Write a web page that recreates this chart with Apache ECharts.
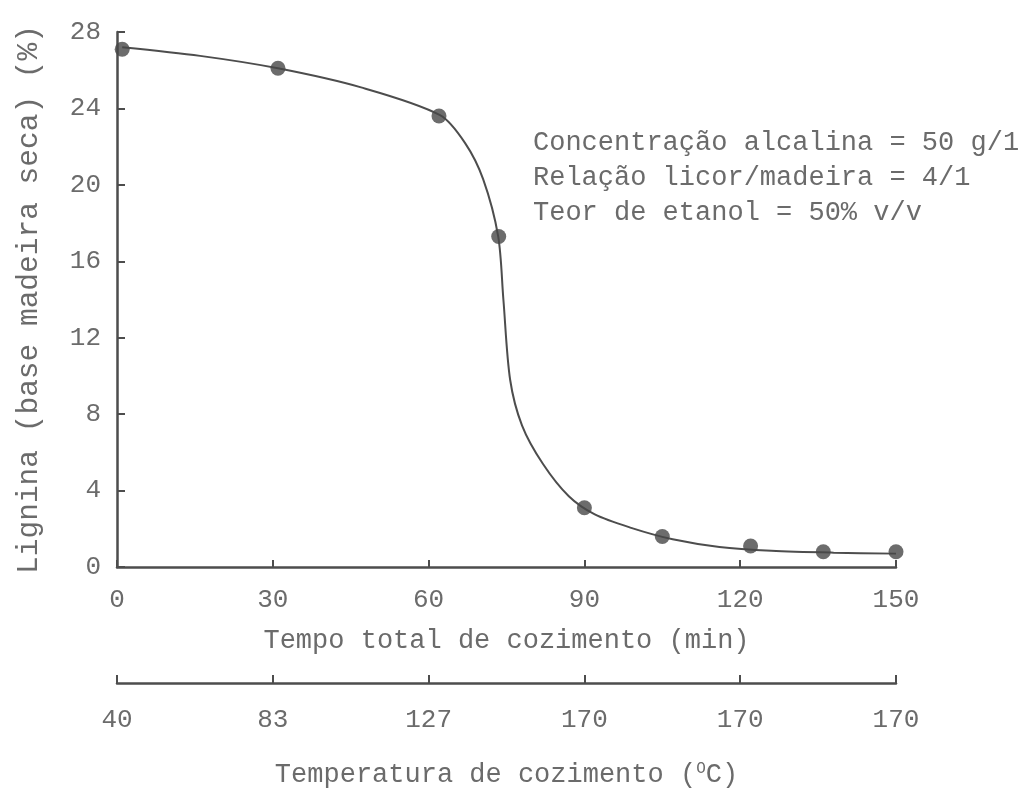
<!DOCTYPE html>
<html>
<head>
<meta charset="utf-8">
<script src="https://cdn.jsdelivr.net/npm/echarts@6/dist/echarts.min.js"></script>
<style>
  html, body { margin: 0; padding: 0; background: #ffffff; }
  #chart { width: 1030px; height: 799px; }
</style>
</head>
<body>
<div id="chart"></div>
<script>
// Measured lignin content (% dry wood basis) against total cooking time (min)
const timeMin = [1, 31, 62, 73.5, 90, 105, 122, 136, 150];
const lignin  = [27.1, 26.1, 23.6, 17.3, 3.1, 1.6, 1.1, 0.8, 0.8];

// Fitted curve drawn through the measurements
const curveTime   = [1, 16, 31, 47, 62.2, 67, 70.5, 73.4, 74.4, 75.7, 78, 82, 87, 92, 99, 107, 116, 126, 138, 150];
const curveLignin = [27.2, 26.75, 26.1, 25.1, 23.65, 22.2, 20.3, 17.3, 14.0, 9.8, 7.4, 5.4, 3.7, 2.75, 2.05, 1.45, 1.05, 0.85, 0.75, 0.7];

// Cooking temperature (°C) reached at each 30-min mark of the time axis
const tempTicks  = [0, 30, 60, 90, 120, 150];
const tempLabels = ['40', '83', '127', '170', '170', '170'];

const conditions = [
  'Concentração alcalina = 50 g/1',
  'Relação licor/madeira = 4/1',
  'Teor de etanol = 50% v/v'
];

const FONT = '"Liberation Mono", "DejaVu Sans Mono", monospace';
const INK = '#4d4d4d';
const TEXT = '#6b6b6b';

const chart = echarts.init(document.getElementById('chart'), null, { renderer: 'canvas' });

chart.setOption({
  backgroundColor: '#ffffff',
  animation: false,
  grid: [
    { left: 117, right: 134, top: 32, bottom: 232, containLabel: false },
    { left: 117, right: 134, top: 683, height: 0, containLabel: false }
  ],
  xAxis: [
    {
      gridIndex: 0,
      type: 'value',
      min: 0, max: 150, interval: 30,
      name: 'Tempo total de cozimento (min)',
      nameLocation: 'middle',
      nameGap: 60,
      nameTextStyle: { fontFamily: FONT, fontSize: 27, color: TEXT },
      axisLine: { show: true, lineStyle: { color: INK, width: 2.5 } },
      axisTick: { show: true, inside: true, length: 7, lineStyle: { color: INK, width: 2 } },
      axisLabel: { fontFamily: FONT, fontSize: 26, color: TEXT, margin: 20 },
      splitLine: { show: false }
    },
    {
      gridIndex: 1,
      type: 'value',
      min: 0, max: 150, interval: 30,
      name: 'Temperatura de cozimento ({s|O}C)',
      nameLocation: 'middle',
      nameGap: 78,
      nameTextStyle: {
        fontFamily: FONT, fontSize: 27, color: TEXT,
        rich: { s: { fontFamily: FONT, fontSize: 16, color: TEXT, verticalAlign: 'top', padding: [0, 0, 12, 0] } }
      },
      axisLine: { show: true, lineStyle: { color: INK, width: 2.5 } },
      axisTick: { show: true, inside: true, length: 8, lineStyle: { color: INK, width: 2 } },
      axisLabel: {
        fontFamily: FONT, fontSize: 26, color: TEXT, margin: 24,
        formatter: function (v) {
          const i = tempTicks.indexOf(v);
          return i >= 0 ? tempLabels[i] : '';
        }
      },
      splitLine: { show: false }
    }
  ],
  yAxis: [
    {
      gridIndex: 0,
      type: 'value',
      min: 0, max: 28, interval: 4,
      name: 'Lignina (base madeira seca) (%)',
      nameLocation: 'middle',
      nameRotate: 90,
      nameGap: 73,
      nameTextStyle: { fontFamily: FONT, fontSize: 29.5, color: TEXT },
      axisLine: { show: true, lineStyle: { color: INK, width: 2.5 } },
      axisTick: { show: true, inside: true, length: 8, lineStyle: { color: INK, width: 2 } },
      axisLabel: { fontFamily: FONT, fontSize: 26, color: TEXT, margin: 16 },
      splitLine: { show: false }
    },
    {
      gridIndex: 1,
      type: 'value',
      min: 0, max: 1,
      show: false
    }
  ],
  graphic: [
    {
      type: 'text',
      left: 533,
      top: 125,
      style: {
        text: conditions.join('\n'),
        font: '27px ' + FONT,
        fill: TEXT,
        lineHeight: 35
      }
    }
  ],
  series: [
    {
      name: 'ajuste',
      type: 'line',
      xAxisIndex: 0, yAxisIndex: 0,
      data: curveTime.map((t, i) => [t, curveLignin[i]]),
      smooth: 0.3,
      showSymbol: false,
      lineStyle: { color: INK, width: 2 },
      z: 2
    },
    {
      name: 'lignina',
      type: 'scatter',
      xAxisIndex: 0, yAxisIndex: 0,
      data: timeMin.map((t, i) => [t, lignin[i]]),
      symbol: 'circle',
      symbolSize: 15,
      itemStyle: { color: '#474747' },
      z: 3
    }
  ]
});
</script>
</body>
</html>
